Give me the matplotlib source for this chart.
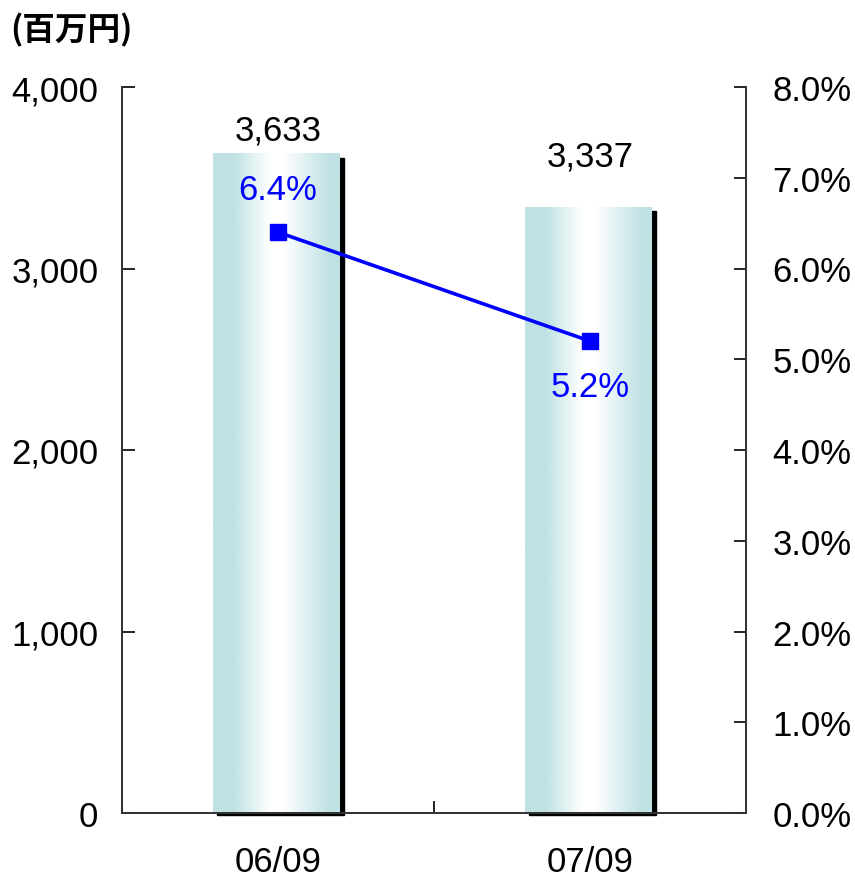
import matplotlib

matplotlib.use("Agg")
import matplotlib.pyplot as plt
import numpy as np
from matplotlib.colors import LinearSegmentedColormap
from matplotlib.patches import Rectangle

plt.rcParams["font.family"] = ["Liberation Sans", "DejaVu Sans"]

periods = ["06/09", "07/09"]
amounts = [3633, 3337]          # 百万円
ratios = [6.4, 5.2]             # %
amount_labels = ["3,633", "3,337"]
ratio_labels = ["6.4%", "5.2%"]
left_ticks = [0, 1000, 2000, 3000, 4000]
left_tick_labels = ["0", "1,000", "2,000", "3,000", "4,000"]
right_ticks = [0, 1, 2, 3, 4, 5, 6, 7, 8]
right_tick_labels = [f"{t:.1f}%" for t in right_ticks]

edge = "#bfe1e4"
cmap = LinearSegmentedColormap.from_list(
    "bar", [(0.0, edge), (0.16, edge), (0.45, "#ffffff"), (0.55, "#ffffff"),
            (0.92, edge), (1.0, edge)]
)

fig = plt.figure(figsize=(8.55, 8.78), dpi=100)
ax = fig.add_axes([122 / 855, 64 / 878, 624 / 855, 726 / 878])
ax2 = ax.twinx()

x = np.arange(len(periods)) + 0.5
width = 0.407
grad = np.linspace(0, 1, 256).reshape(1, -1)
for xi, h in zip(x, amounts):
    x0 = xi - width / 2 - 0.004
    # shadow
    ax.add_patch(Rectangle((x0 + 0.013, -12), width, h - 10, color="black",
                           zorder=1, clip_on=False))
    ax.imshow(grad, cmap=cmap, aspect="auto", extent=[x0, x0 + width, 0, h],
              zorder=2, interpolation="bilinear")

ax.set_xlim(0, 2)
ax.set_ylim(0, 4000)
ax.set_yticks(left_ticks)
ax.set_yticklabels(left_tick_labels)
ax.set_xticks([0, 1, 2])
ax.set_xticklabels([])
ax.set_xticks(x, minor=True)
ax.set_xticklabels(periods, minor=True)
ax.tick_params(axis="x", which="major", direction="in", length=9, width=1.2)
ax.tick_params(axis="x", which="minor", length=0, pad=23, labelsize=25)
ax.tick_params(axis="y", direction="in", length=9, width=1.2, pad=17, labelsize=25)

ax2.set_ylim(0, 8)
ax2.set_yticks(right_ticks)
ax2.set_yticklabels(right_tick_labels)
ax2.tick_params(axis="y", direction="in", length=9, width=1.2, pad=19, labelsize=25)

for a in (ax, ax2):
    a.spines["top"].set_visible(False)
    for s in ("left", "right", "bottom"):
        a.spines[s].set_linewidth(1.3)
        a.spines[s].set_color("#333333")

ax2.plot(x, ratios, color="#0000ff", linewidth=2.6, marker="s",
         markersize=12, zorder=5)

amount_offsets = [5, 25]
for xi, h, lab, off in zip(x, amounts, amount_labels, amount_offsets):
    ax.annotate(lab, (xi, h), xytext=(0, off), textcoords="offset points",
                ha="center", va="bottom", fontsize=25)

ratio_offsets = [31, -33]
for xi, r, lab, off in zip(x, ratios, ratio_labels, ratio_offsets):
    ax2.annotate(lab, (xi, r), xytext=(0, off), textcoords="offset points",
                 ha="center", va="center", fontsize=25, color="#0000ff")

fig.text(10 / 855, 1 - 30 / 878, "(百万円)", ha="left", va="center", fontsize=23.5,
         fontweight="bold", family=["Noto Sans CJK JP", "DejaVu Sans"])

fig.savefig("out.png", dpi=100)
